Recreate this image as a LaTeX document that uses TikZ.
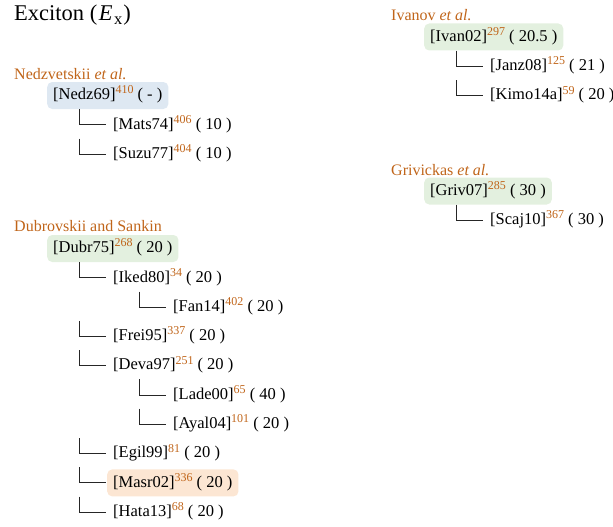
\documentclass[tikz,border=0pt]{standalone}
\usepackage{fontspec}
\setmainfont{Liberation Serif}
\definecolor{refc}{HTML}{C0651A}
\definecolor{bluef}{HTML}{DEE8F2}
\definecolor{greenf}{HTML}{E3F0DF}
\definecolor{orangef}{HTML}{FCE6D3}
\newcommand{\rf}[1]{\raisebox{5.8pt}{\fontsize{12}{12}\selectfont\textcolor{refc}{#1}}}
\newcommand{\ent}[3]{[#1]\rf{#2}\ (\ #3\ )}
\tikzset{
  entry/.style={anchor=west, inner xsep=6pt, inner ysep=0pt, text height=12pt, text depth=3.5pt,
    minimum height=27pt, font=\fontsize{16.5}{19}\selectfont, rounded corners=5pt},
  bluebox/.style={entry, fill=bluef},
  greenbox/.style={entry, fill=greenf},
  orangebox/.style={entry, fill=orangef},
  grouplabel/.style={anchor=base west, inner sep=0pt, text=refc, font=\fontsize{16}{19}\selectfont},
  conn/.style={draw=black!85, line width=0.9pt},
}
\begin{document}
\begin{tikzpicture}[x=1pt,y=-1pt]
\useasboundingbox (0,0) rectangle (613,527);
\node[anchor=base west, inner sep=0pt, font=\fontsize{22.5}{26}\selectfont] (title) at (14,20.5)
  {Exciton (\hspace{1.5pt}\textit{E}\hspace{1.5pt}\raisebox{-4pt}{\fontsize{16.5}{16}\selectfont x}\hspace{1pt})};

% Nedzvetskii group
\node[grouplabel] (gN) at (14,79.5) {Nedzvetskii \textit{et al.}};
\node[bluebox] (Nedz) at (47,95.5) {\ent{Nedz69}{410}{-}};
\node[entry] (Mats) at (107,124.8) {\ent{Mats74}{406}{10}};
\node[entry] (Suzu) at (107,154.1) {\ent{Suzu77}{404}{10}};

% Dubrovskii group
\node[grouplabel] (gD) at (14,231) {Dubrovskii and Sankin};
\node[greenbox] (Dubr) at (47,248.5) {\ent{Dubr75}{268}{20}};
\node[entry] (Iked) at (107,277.8) {\ent{Iked80}{34}{20}};
\node[entry] (Fan) at (167,307.1) {\ent{Fan14}{402}{20}};
\node[entry] (Frei) at (107,336.4) {\ent{Frei95}{337}{20}};
\node[entry] (Deva) at (107,365.7) {\ent{Deva97}{251}{20}};
\node[entry] (Lade) at (167,395) {\ent{Lade00}{65}{40}};
\node[entry] (Ayal) at (167,424.3) {\ent{Ayal04}{101}{20}};
\node[entry] (Egil) at (107,453.6) {\ent{Egil99}{81}{20}};
\node[orangebox] (Masr) at (107,482.9) {\ent{Masr02}{336}{20}};
\node[entry] (Hata) at (107,512.2) {\ent{Hata13}{68}{20}};

% Ivanov group
\node[grouplabel] (gI) at (391,20.5) {Ivanov \textit{et al.}};
\node[greenbox] (Ivan) at (424,37) {\ent{Ivan02}{297}{20.5}};
\node[entry] (Janz) at (484,66.3) {\ent{Janz08}{125}{21}};
\node[entry] (Kimo) at (484,95.6) {\ent{Kimo14a}{59}{20}};

% Grivickas group
\node[grouplabel] (gG) at (391,175) {Grivickas \textit{et al.}};
\node[greenbox] (Griv) at (424,191) {\ent{Griv07}{285}{30}};
\node[entry] (Scaj) at (484,220.3) {\ent{Scaj10}{367}{30}};

% vertical line positions
\coordinate (vN) at ([xshift=32pt]Nedz.west);
\coordinate (vD) at ([xshift=32pt]Dubr.west);
\coordinate (vI) at ([xshift=32pt]Iked.west);
\coordinate (vV) at ([xshift=32pt]Deva.west);
\coordinate (vJ) at ([xshift=32pt]Ivan.west);
\coordinate (vG) at ([xshift=32pt]Griv.west);

\draw[conn] (vN |- Nedz.south) |- ([xshift=-1.5pt]Mats.west);
\draw[conn] (vN |- Mats.south) |- ([xshift=-1.5pt]Suzu.west);

\draw[conn] (vD |- Dubr.south) |- ([xshift=-1.5pt]Iked.west);
\draw[conn] (vI |- Iked.south) |- ([xshift=-1.5pt]Fan.west);
\draw[conn] (vD |- Fan.south) |- ([xshift=-1.5pt]Frei.west);
\draw[conn] (vD |- Frei.south) |- ([xshift=-1.5pt]Deva.west);
\draw[conn] (vV |- Deva.south) |- ([xshift=-1.5pt]Lade.west);
\draw[conn] (vV |- Lade.south) |- ([xshift=-1.5pt]Ayal.west);
\draw[conn] (vD |- Ayal.south) |- ([xshift=-1.5pt]Egil.west);
\draw[conn] (vD |- Egil.south) |- ([xshift=-1.5pt]Masr.west);
\draw[conn] (vD |- Masr.south) |- ([xshift=-1.5pt]Hata.west);

\draw[conn] (vJ |- Ivan.south) |- ([xshift=-1.5pt]Janz.west);
\draw[conn] (vJ |- Janz.south) |- ([xshift=-1.5pt]Kimo.west);
\draw[conn] (vG |- Griv.south) |- ([xshift=-1.5pt]Scaj.west);
\end{tikzpicture}
\end{document}
